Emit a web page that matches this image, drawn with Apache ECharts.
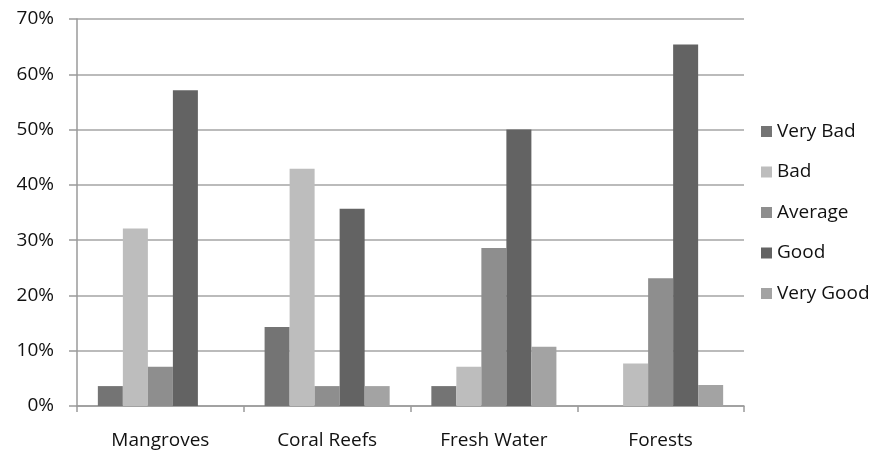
<!DOCTYPE html>
<html>
<head>
<meta charset="utf-8">
<script src="https://cdn.jsdelivr.net/npm/echarts@6/dist/echarts.min.js"></script>
<style>
  html, body { margin: 0; padding: 0; background: #fff; }
  #chart { width: 880px; height: 450px; }
</style>
</head>
<body>
<div id="chart"></div>
<script>
var categories = ['Mangroves', 'Coral Reefs', 'Fresh Water', 'Forests'];
var seriesNames = ['Very Bad', 'Bad', 'Average', 'Good', 'Very Good'];
var veryBad  = [3.6, 14.3, 3.6, 0];
var bad      = [32.1, 42.9, 7.1, 7.7];
var average  = [7.1, 3.6, 28.6, 23.1];
var good     = [57.1, 35.7, 50.0, 65.4];
var veryGood = [0, 3.6, 10.7, 3.8];
var colors = ['#747474', '#bdbdbd', '#8e8e8e', '#636363', '#a3a3a3'];

var values = [veryBad, bad, average, good, veryGood];
var series = [];
for (var i = 0; i < seriesNames.length; i++) {
  series.push({
    name: seriesNames[i],
    type: 'bar',
    data: values[i],
    barGap: '0%',
    barCategoryGap: '25%',
    itemStyle: { color: colors[i] }
  });
}

var chart = echarts.init(document.getElementById('chart'));
chart.setOption({
  animation: false,
  textStyle: { fontFamily: 'Open Sans' },
  grid: { left: 77, right: 136, top: 19, bottom: 44 },
  legend: {
    orient: 'vertical',
    left: 756,
    top: 117,
    itemWidth: 11,
    itemHeight: 11,
    itemGap: 21.5,
    icon: 'rect',
    textStyle: { fontSize: 19, color: '#111', fontFamily: 'Open Sans' },
    data: seriesNames
  },
  xAxis: {
    type: 'category',
    data: categories,
    axisLine: { lineStyle: { color: '#9a9a9a', width: 1.5 } },
    axisTick: { show: true, length: 6, lineStyle: { color: '#9a9a9a', width: 1.5 } },
    axisLabel: { fontSize: 19, color: '#111', margin: 25 }
  },
  yAxis: {
    type: 'value',
    min: 0,
    max: 70,
    interval: 10,
    axisLine: { show: true, lineStyle: { color: '#9a9a9a', width: 1.5 } },
    axisTick: { show: true, length: 8, lineStyle: { color: '#9a9a9a', width: 1.5 } },
    splitLine: { lineStyle: { color: '#a5a5a5', width: 1.5 } },
    axisLabel: { fontSize: 19, color: '#111', margin: 23, formatter: '{value}%' }
  },
  series: series
});
</script>
</body>
</html>
